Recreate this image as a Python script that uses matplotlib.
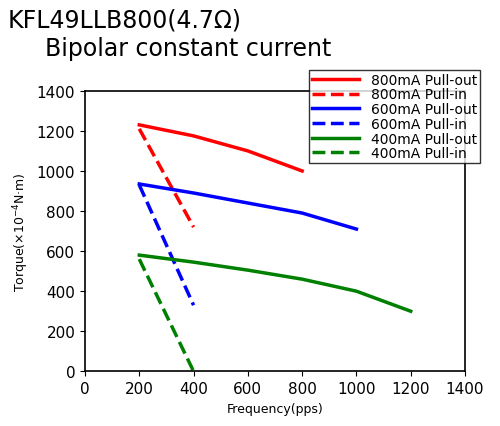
import matplotlib
matplotlib.use("Agg")
import matplotlib.pyplot as plt

freq = [200, 400, 600, 800, 1000, 1200]
out800 = [1230, 1175, 1100, 1000]
in800 = [1210, 720]
out600 = [935, 890, 840, 790, 710]
in600 = [930, 330]
out400 = [580, 545, 505, 460, 400, 300]
in400 = [560, 0]
xticks = list(range(0, 1401, 200))
yticks = list(range(0, 1401, 200))

fig = plt.figure(figsize=(5.0, 4.27), dpi=100)
ax = fig.add_axes([0.17, 0.128, 0.76, 0.657])
series = [
    (out800, 'red', '-', '800mA Pull-out'),
    (in800, 'red', '--', '800mA Pull-in'),
    (out600, 'blue', '-', '600mA Pull-out'),
    (in600, 'blue', '--', '600mA Pull-in'),
    (out400, 'green', '-', '400mA Pull-out'),
    (in400, 'green', '--', '400mA Pull-in'),
]
handles = []
for ys, c, ls, lab in series:
    h, = ax.plot(freq[:len(ys)], ys, color=c, ls=ls, lw=2.5, label=lab)
    handles.append(h)
ax.set_xlim(0, 1400)
ax.set_ylim(0, 1400)
ax.set_xticks(xticks)
ax.set_yticks(yticks)
ax.tick_params(labelsize=11, direction='out')
for s in ax.spines.values():
    s.set_linewidth(1.2)
ax.set_xlabel('Frequency(pps)', fontsize=9)
ax.set_ylabel('Torque(×10$^{-4}$N·m)', fontsize=9)
fig.text(0.015, 0.935, 'KFL49LLB800(4.7Ω)', fontsize=17)
fig.text(0.09, 0.87, 'Bipolar constant current', fontsize=17)
fig.legend(handles=handles, loc='upper left', bbox_to_anchor=(0.605, 0.85),
           fontsize=10, frameon=True, fancybox=False, edgecolor='black',
           handlelength=3.4, borderpad=0.2, labelspacing=0.05)
fig.savefig('out.png', dpi=100)
